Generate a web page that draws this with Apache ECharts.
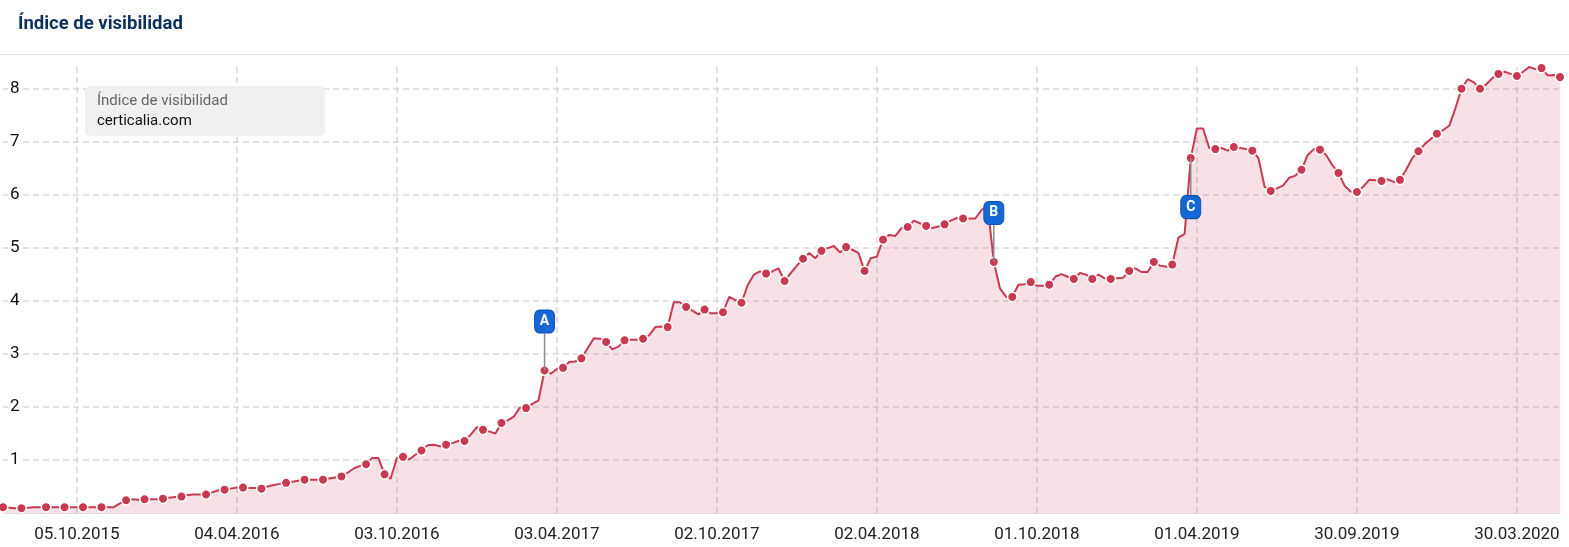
<!DOCTYPE html>
<html>
<head>
<meta charset="utf-8">
<title>Índice de visibilidad</title>
<script src="https://cdn.jsdelivr.net/npm/echarts@6/dist/echarts.min.js"></script>
<style>
  html, body { margin: 0; padding: 0; background: #fff; }
  #main { width: 1569px; height: 547px; }
</style>
</head>
<body>
<div id="main"></div>
<script>
// weekly visibility index, first week = 13.07.2015
const vis2015 = [0.11, 0.10, 0.09, 0.09, 0.10, 0.11, 0.11, 0.11, 0.11, 0.11, 0.11, 0.11, 0.11,
  0.11, 0.11, 0.11, 0.11, 0.11, 0.11, 0.18, 0.24, 0.26, 0.25, 0.26, 0.26];
const vis2016 = [0.26, 0.27, 0.29, 0.30, 0.31, 0.34, 0.35, 0.35, 0.35, 0.39,
  0.43, 0.44, 0.46, 0.48, 0.48, 0.47, 0.47, 0.46, 0.50, 0.53,
  0.55, 0.57, 0.59, 0.61, 0.63, 0.63, 0.63, 0.63, 0.65, 0.67,
  0.69, 0.76, 0.84, 0.89, 0.92, 1.04, 1.04, 0.73, 0.65, 1.04,
  1.06, 1.01, 1.10, 1.18, 1.28, 1.29, 1.26, 1.29, 1.32, 1.36,
  1.36, 1.48];
const vis2017 = [1.62, 1.57, 1.54,
  1.50, 1.70, 1.75, 1.82, 1.99, 1.98, 2.06, 2.12, 2.69, 2.63,
  2.72, 2.74, 2.85, 2.86, 2.92, 3.11, 3.30, 3.29, 3.23, 3.09,
  3.14, 3.26, 3.27, 3.27, 3.29, 3.36, 3.51, 3.52, 3.51, 3.98,
  3.98, 3.89, 3.82, 3.75, 3.84, 3.77, 3.77, 3.79, 4.08, 4.02,
  3.97, 4.30, 4.50, 4.56, 4.52, 4.56, 4.62, 4.38, 4.53];
const vis2018 = [4.67,
  4.80, 4.91, 4.81, 4.95, 5.00, 5.04, 4.92, 5.02, 4.97, 4.91,
  4.57, 4.81, 4.84, 5.16, 5.25, 5.23, 5.38, 5.40, 5.52, 5.47,
  5.42, 5.38, 5.41, 5.45, 5.52, 5.57, 5.56, 5.56, 5.56, 5.72,
  5.80, 4.74, 4.24, 4.08, 4.08, 4.31, 4.32, 4.36, 4.29, 4.29,
  4.31, 4.46, 4.51, 4.46, 4.42, 4.53, 4.50, 4.42, 4.50, 4.43,
  4.42, 4.43];
const vis2019 = [4.44, 4.57, 4.62, 4.55, 4.55, 4.74, 4.67, 4.65,
  4.69, 5.20, 5.27, 6.70, 7.26, 7.26, 6.89, 6.87, 6.89, 6.84,
  6.91, 6.89, 6.87, 6.84, 6.70, 6.16, 6.08, 6.13, 6.18, 6.33,
  6.37, 6.48, 6.76, 6.87, 6.86, 6.76, 6.57, 6.42, 6.18, 6.07,
  6.06, 6.16, 6.29, 6.28, 6.27, 6.30, 6.25, 6.29, 6.48, 6.70,
  6.83, 6.96, 7.06, 7.16];
const vis2020 = [7.23, 7.31, 7.64, 8.01, 8.19, 8.13,
  8.01, 8.09, 8.21, 8.29, 8.33, 8.29, 8.25, 8.33, 8.42, 8.38,
  8.40, 8.26, 8.27, 8.23];

const visibility = [].concat(vis2015, vis2016, vis2017, vis2018, vis2019, vis2020);

// weeks that carry a visible dot
const dotWeeks = [0, 3, 7, 10, 13, 16, 20, 23, 26, 29, 33, 36, 39, 42, 46, 49, 52, 55, 59, 62,
  65, 68, 72, 75, 78, 81, 85, 88, 91, 94, 98, 101, 104, 108, 111, 114, 117, 120,
  124, 127, 130, 133, 137, 140, 143, 147, 150, 153, 156, 161, 164, 167, 170, 174,
  177, 180, 183, 187, 190, 193, 197, 200, 203, 206, 211, 214, 217, 220, 224, 227,
  230, 233, 237, 240, 243, 246, 250, 253];

const tickLabels = ['05.10.2015', '04.04.2016', '03.10.2016', '03.04.2017', '02.10.2017',
  '02.04.2018', '01.10.2018', '01.04.2019', '30.09.2019', '30.03.2020'];

// events
const eventLabels = ['A', 'B', 'C'];
const eventWeeks = [88, 161, 193];
const eventBelow = [false, false, true];

// weekly category labels
const weeks = [];
const start = new Date(Date.UTC(2015, 6, 13));
for (let i = 0; i < visibility.length; i++) {
  const d = new Date(start.getTime() + i * 7 * 86400000);
  const dd = String(d.getUTCDate()).padStart(2, '0');
  const mm = String(d.getUTCMonth() + 1).padStart(2, '0');
  weeks.push(dd + '.' + mm + '.' + d.getUTCFullYear());
}

const dotSet = new Set(dotWeeks);
const showTick = function (index, value) { return tickLabels.indexOf(value) !== -1; };

const markers = [];
eventWeeks.forEach(function (w, i) {
  const dir = eventBelow[i] ? 1 : -1;
  const coord = [weeks[w], visibility[w]];
  markers.push({
    coord: coord,
    symbol: 'rect',
    symbolSize: [1.5, 37],
    symbolOffset: [0, dir * 18.5],
    itemStyle: { color: '#8c8c8c', borderWidth: 0 },
    label: { show: false }
  });
  markers.push({
    coord: coord,
    symbol: 'roundRect',
    symbolSize: [20, 23],
    symbolOffset: [0, dir * 49],
    itemStyle: { color: '#1667d6', borderColor: '#0e52b3', borderWidth: 1 },
    label: {
      show: true,
      formatter: eventLabels[i],
      color: '#fff',
      fontWeight: 'bold',
      fontSize: 14,
      fontFamily: 'Roboto'
    }
  });
});

var chartDom = document.getElementById('main');
var myChart = echarts.init(chartDom);
var option;

option = {
  animation: false,
  textStyle: { fontFamily: 'Roboto' },
  title: {
    text: 'Índice de visibilidad',
    left: 18,
    top: 15,
    padding: 0,
    textStyle: { fontSize: 18.5, fontWeight: 'bold', color: '#0c2f5c', fontFamily: 'Roboto' }
  },
  graphic: [
    { type: 'rect', left: 0, top: 54, shape: { width: 1569, height: 1 }, style: { fill: '#e6e6e6' } }
  ],
  legend: {
    left: 85,
    top: 86,
    padding: [5, 97, 5, 7],
    backgroundColor: '#f0f0f0',
    borderRadius: 5,
    icon: 'none',
    itemWidth: 0,
    itemHeight: 40,
    selectedMode: false,
    data: ['certicalia.com'],
    formatter: '{t|Índice de visibilidad}\n{d|{name}}',
    textStyle: {
      fontSize: 15,
      lineHeight: 20,
      rich: {
        t: { fontSize: 15, lineHeight: 20, color: '#666', fontFamily: 'Roboto' },
        d: { fontSize: 15, lineHeight: 20, color: '#111', fontFamily: 'Roboto' }
      }
    }
  },
  grid: { left: 3, right: 9, top: 67, bottom: 34 },
  xAxis: {
    type: 'category',
    boundaryGap: false,
    data: weeks,
    axisTick: { show: false },
    axisLine: { lineStyle: { color: '#dcdcdc', width: 1 } },
    axisLabel: { interval: showTick, margin: 13, fontSize: 17, color: '#222' },
    splitLine: {
      show: true,
      interval: showTick,
      lineStyle: { color: '#d6d6d6', width: 1.5, type: [6, 4] }
    }
  },
  yAxis: {
    type: 'value',
    min: 0,
    max: 8.42,
    interval: 1,
    axisLine: { show: false },
    axisTick: { show: false },
    axisLabel: {
      inside: true,
      margin: 5,
      fontSize: 17,
      color: '#111',
      backgroundColor: '#fff',
      padding: [0, 2],
      showMinLabel: false,
      showMaxLabel: false
    },
    splitLine: {
      showMinLine: false,
      showMaxLine: false,
      lineStyle: { color: '#dadada', width: 1.5, type: [6, 4] }
    }
  },
  series: [
    {
      name: 'certicalia.com',
      type: 'line',
      data: visibility,
      showAllSymbol: true,
      symbol: 'circle',
      symbolSize: function (value, params) {
        return dotSet.has(params.dataIndex) ? 9.5 : 0;
      },
      lineStyle: { color: '#c73a52', width: 2 },
      itemStyle: { color: '#c73a52', borderColor: '#fff', borderWidth: 1.5 },
      areaStyle: { color: 'rgba(208, 80, 104, 0.24)' },
      markPoint: { silent: true, data: markers }
    }
  ]
};

option && myChart.setOption(option);
</script>
</body>
</html>
